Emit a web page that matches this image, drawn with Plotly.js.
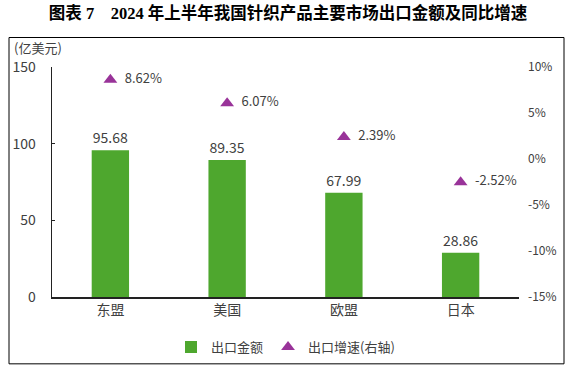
<!DOCTYPE html>
<html><head><meta charset="utf-8">
<script src="https://cdn.plot.ly/plotly-3.0.1.min.js"></script>
<style>html,body{margin:0;padding:0;background:#fff}#chart{width:576px;height:374px}</style>
</head><body><div id="chart"></div>
<script>
const categories = ['东盟','美国','欧盟','日本'];
const exportValue = [95.68, 89.35, 67.99, 28.86];
const exportGrowth = [8.62, 6.07, 2.39, -2.52];
const leftTicks = [0, 50, 100, 150];
const rightTicks = [10, 5, 0, -5, -10, -15];

const font = 'Noto Sans CJK SC, Noto Sans, sans-serif';
const gray = '#404040';
const W = 576, H = 374, L = 52, R = 57, T = 67, B = 73;
const pw = W - L - R, ph = H - T - B;
const px = x => (x - L) / pw;
const py = y => (H - B - y) / ph;

const traces = [
  {type:'bar', name:'出口金额', x:categories, y:exportValue,
   marker:{color:'#4EA72E'}, text:exportValue.map(v=>v.toFixed(2)),
   textposition:'outside', cliponaxis:false,
   textfont:{family:font,size:14,color:gray}, hoverinfo:'none'},
  {type:'scatter', mode:'markers+text', name:'出口增速(右轴)', x:categories, y:exportGrowth, yaxis:'y2',
   marker:{symbol:'triangle-up', size:12, color:'#993399'},
   text:exportGrowth.map(v=>'  '+v.toFixed(2)+'%'), textposition:'middle right',
   textfont:{family:font,size:13,color:gray}, cliponaxis:false, hoverinfo:'none'}
];

const layout = {
  width:W, height:H, margin:{l:L,r:R,t:T,b:B},
  paper_bgcolor:'#fff', plot_bgcolor:'#fff',
  font:{family:font, color:gray},
  showlegend:true,
  title:{text:'图表 7　2024 年上半年我国针织产品主要市场出口金额及同比增速',
    font:{family:'Liberation Serif, Noto Sans CJK SC, serif', size:16.5, color:'#000', weight:'bold'},
    x:0.5, xanchor:'center', y:1-13/H, yanchor:'middle', yref:'container'},
  bargap:0.68,
  xaxis:{type:'category', showline:true, linecolor:'#222', linewidth:1.5, ticks:'',
    tickfont:{family:font,size:14,color:gray}, showgrid:false, zeroline:false, fixedrange:true},
  yaxis:{range:[0,150], tickvals:leftTicks, showline:true, linecolor:'#222', linewidth:1.5,
    ticks:'inside', ticklen:3, tickcolor:'#222', ticklabelstandoff:12,
    tickfont:{family:font,size:14,color:gray}, showgrid:false, zeroline:false},
  yaxis2:{overlaying:'y', side:'right', range:[-15,10], tickvals:rightTicks,
    ticktext:rightTicks.map(v=>v+'%'), showline:false, ticks:'', ticklabelstandoff:8,
    tickfont:{family:font,size:12,color:gray}, showgrid:false, zeroline:false},
  legend:{orientation:'h', x:0.5, xanchor:'center', y:py(352), yanchor:'middle',
    font:{family:font,size:13,color:gray}, itemwidth:30, traceorder:'normal'},
  annotations:[{text:'(亿美元)', xref:'paper', yref:'paper', x:px(12), y:py(47),
    xanchor:'left', yanchor:'middle', showarrow:false, font:{family:font,size:13,color:gray}}],
  shapes:[{type:'rect', xref:'paper', yref:'paper', x0:px(9), x1:px(564), y0:py(369), y1:py(37),
    line:{color:'#000', width:1}}]
};
Plotly.newPlot('chart', traces, layout, {displayModeBar:false, staticPlot:true});
</script></body></html>
